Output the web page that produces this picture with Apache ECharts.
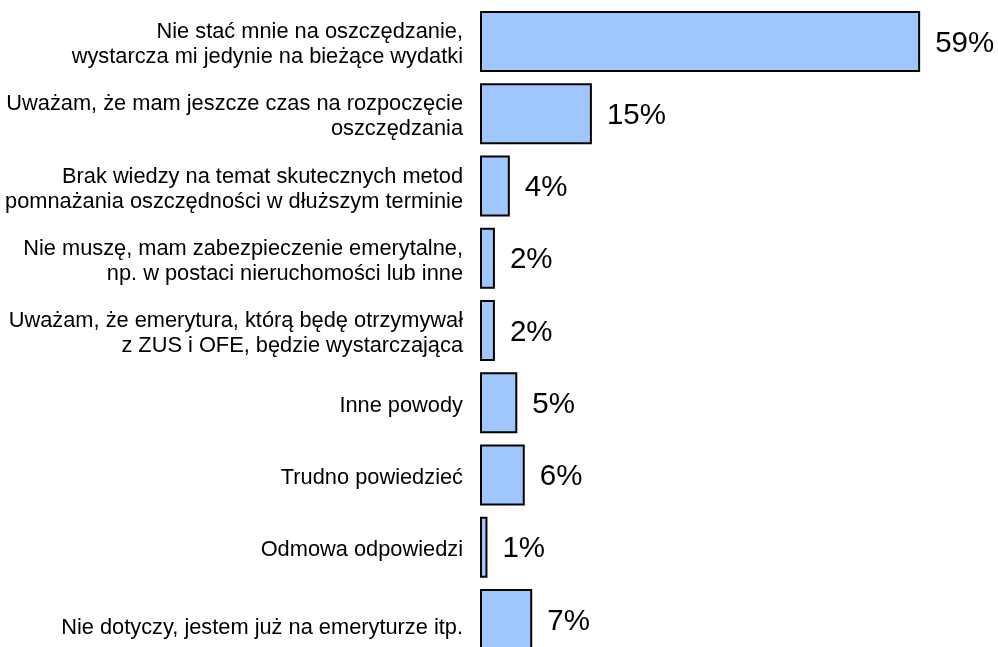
<!DOCTYPE html>
<html>
<head>
<meta charset="utf-8">
<script src="https://cdn.jsdelivr.net/npm/echarts@6/dist/echarts.min.js"></script>
<style>
html,body{margin:0;padding:0;background:#fff;}
#chart{width:998px;height:647px;}
</style>
</head>
<body>
<div id="chart"></div>
<script>
var categories = [
  "Nie stać mnie na oszczędzanie,\nwystarcza mi jedynie na bieżące wydatki",
  "Uważam, że mam jeszcze czas na rozpoczęcie\noszczędzania",
  "Brak wiedzy na temat skutecznych metod\npomnażania oszczędności w dłuższym terminie",
  "Nie muszę, mam zabezpieczenie emerytalne,\nnp. w postaci nieruchomości lub inne",
  "Uważam, że emerytura, którą będę otrzymywał\nz ZUS i OFE, będzie wystarczająca",
  "Inne powody",
  "Trudno powiedzieć",
  "Odmowa odpowiedzi",
  "Nie dotyczy, jestem już na emeryturze itp."
];
var values = [59, 15, 4, 2, 2, 5, 6, 1, 7];

var LINE_H = 25;
var chart = echarts.init(document.getElementById('chart'), null, {renderer: 'canvas'});
var catData = categories.map(function (c, i) {
  var lines = c.split('\n').length;
  var shift = (i === categories.length - 1) ? 8 : 3;
  return {
    value: c,
    textStyle: {
      verticalAlign: 'top',
      padding: [-(lines * LINE_H) / 2 + shift, 0, 0, 0]
    }
  };
});
chart.setOption({
  animation: false,
  backgroundColor: '#ffffff',
  grid: {left: 480, top: 5.4, width: 484.9, height: 650.25, containLabel: false, outerBoundsMode: 'none'},
  xAxis: {
    type: 'value', min: 0, max: 65,
    show: false
  },
  yAxis: {
    type: 'category',
    inverse: true,
    data: catData,
    axisLine: {show: false},
    axisTick: {show: false},
    splitLine: {show: false},
    axisLabel: {
      margin: 17,
      fontFamily: 'Liberation Sans, Arial, sans-serif',
      fontSize: 21.8,
      lineHeight: LINE_H,
      color: '#000',
      align: 'right'
    }
  },
  series: [{
    type: 'bar',
    data: values,
    barCategoryGap: '15.6%',
    itemStyle: {color: '#a0c6fe', borderColor: '#000', borderWidth: 2},
    label: {
      show: true,
      position: 'right',
      distance: 15,
      offset: [0, 2],
      formatter: '{c}%',
      fontFamily: 'Liberation Sans, Arial, sans-serif',
      fontSize: 29.5,
      color: '#000'
    }
  }]
});
</script>
</body>
</html>
